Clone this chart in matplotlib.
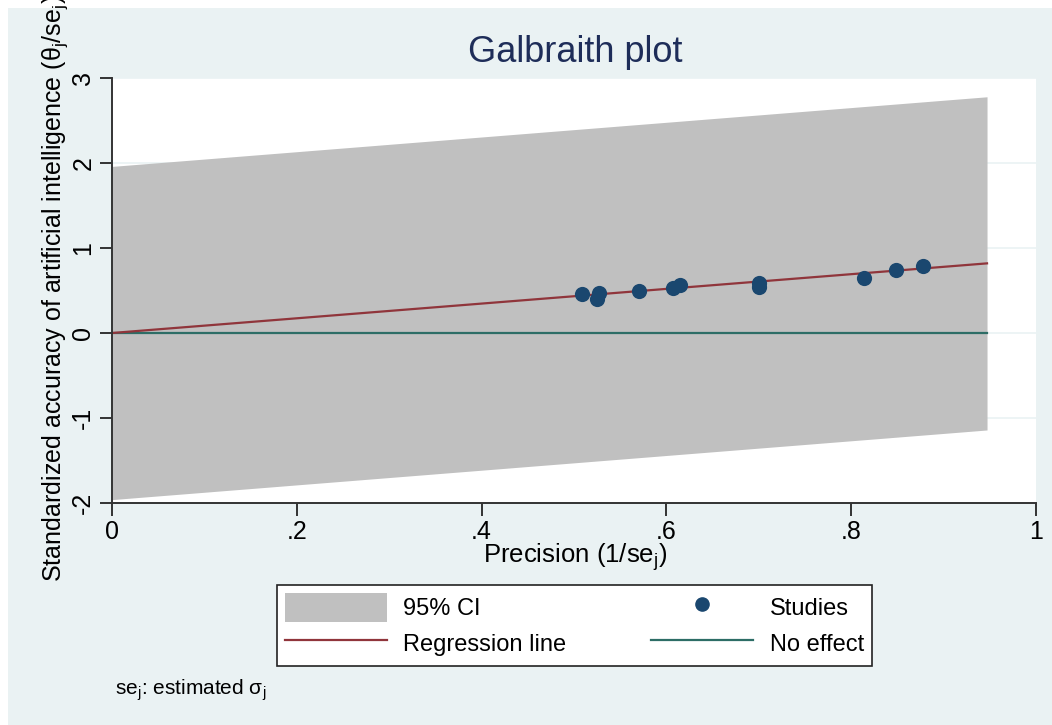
import numpy as np
import matplotlib.pyplot as plt
from matplotlib.patches import Patch
from matplotlib.lines import Line2D

plt.rcParams['font.family'] = ['Liberation Sans', 'DejaVu Sans']
plt.rcParams['mathtext.fontset'] = 'custom'
plt.rcParams['mathtext.rm'] = 'Liberation Sans'
plt.rcParams['mathtext.it'] = 'Liberation Sans'

# -------- DATA --------
precision = [0.509, 0.527, 0.525, 0.570, 0.607, 0.615, 0.700, 0.700, 0.814, 0.849, 0.878]
std_accuracy = [0.456, 0.468, 0.397, 0.495, 0.534, 0.562, 0.593, 0.542, 0.645, 0.743, 0.790]
slope = 0.865          # regression through the origin
ci_half = 1.96         # 95% band half width
x_end = 0.947          # lines / band end here
x_ticks = [0, 0.2, 0.4, 0.6, 0.8, 1]
x_ticklabels = ['0', '.2', '.4', '.6', '.8', '1']
y_ticks = [-2, -1, 0, 1, 2, 3]

# -------- COLOURS --------
bg = '#eaf2f3'
band_col = '#c0c0c0'
reg_col = '#90353b'
null_col = '#2d6d66'
pt_col = '#1a476f'
axis_col = '#333333'

W, H = 1052, 725
fig = plt.figure(figsize=(W / 100, H / 100), dpi=100, facecolor='white')
# light outer panel (white strip at left/top edge)
fig.patches.append(plt.Rectangle((8 / W, 0), 1, 1 - 8 / H, transform=fig.transFigure,
                                 facecolor=bg, edgecolor='none', zorder=-10))

ax = fig.add_axes([112 / W, 1 - 503 / H, (1036 - 112) / W, (503 - 78) / H])
ax.set_facecolor('white')

# -------- BAND AND LINES --------
xs = np.array([0, x_end])
ax.fill_between(xs, slope * xs - ci_half, slope * xs + ci_half, color=band_col, lw=0, zorder=2)
ax.plot(xs, slope * xs, color=reg_col, lw=1.6, zorder=4)
ax.plot(xs, [0, 0], color=null_col, lw=1.6, zorder=3)
ax.scatter(precision, std_accuracy, s=120, color=pt_col, zorder=5, linewidths=0)

# -------- AXES STYLE --------
ax.set_xlim(0, 1)
ax.set_ylim(-2, 3)
ax.set_xticks(x_ticks)
ax.set_xticklabels(x_ticklabels)
ax.set_yticks(y_ticks)
ax.set_yticklabels([str(v) for v in y_ticks], rotation=90, va='center')
for v in y_ticks:
    ax.axhline(v, color=bg, lw=1.2, zorder=1)
for side in ['top', 'right']:
    ax.spines[side].set_visible(False)
for side in ['left', 'bottom']:
    ax.spines[side].set_color(axis_col)
    ax.spines[side].set_linewidth(1.4)
    ax.spines[side].set_zorder(6)
ax.tick_params(axis='both', length=9, width=1.4, color=axis_col, labelsize=18, pad=3)

fig.text(575 / W, 1 - 53 / H, 'Galbraith plot', ha='center', va='center',
         fontsize=26, color='#1e2d59')
fig.text(575 / W, 1 - 557 / H, r'Precision (1/se$_\mathregular{j}$)', ha='center', va='center',
         fontsize=18.5)
fig.text(55 / W, 1 - 582 / H,
         r'Standardized accuracy of artificial intelligence ($\mathregular{\theta_j}$/se$_\mathregular{j}$)',
         ha='center', va='bottom', rotation=90, fontsize=18)
fig.text(115 / W, 1 - 690 / H, r'se$_\mathregular{j}$: estimated $\mathregular{\sigma_j}$',
         ha='left', va='center', fontsize=15)

# -------- LEGEND --------
handles = [Patch(facecolor=band_col, edgecolor='none'),
           Line2D([], [], color=reg_col, lw=1.6),
           Line2D([], [], color=pt_col, marker='o', ls='none', markersize=9.5),
           Line2D([], [], color=null_col, lw=1.6)]
labels = ['95% CI', 'Regression line', 'Studies', 'No effect']
leg = fig.legend(handles, labels, ncol=2, loc='upper left',
                 bbox_to_anchor=(277 / W, 1 - 585 / H), borderaxespad=0,
                 fontsize=17, handlelength=4.3, handleheight=1.5, handletextpad=0.7,
                 columnspacing=3.6, borderpad=0.35, labelspacing=0.3,
                 fancybox=False, framealpha=1, edgecolor='#222222')
leg.get_frame().set_linewidth(1.2)

fig.savefig('out.png', dpi=100, facecolor='white')
